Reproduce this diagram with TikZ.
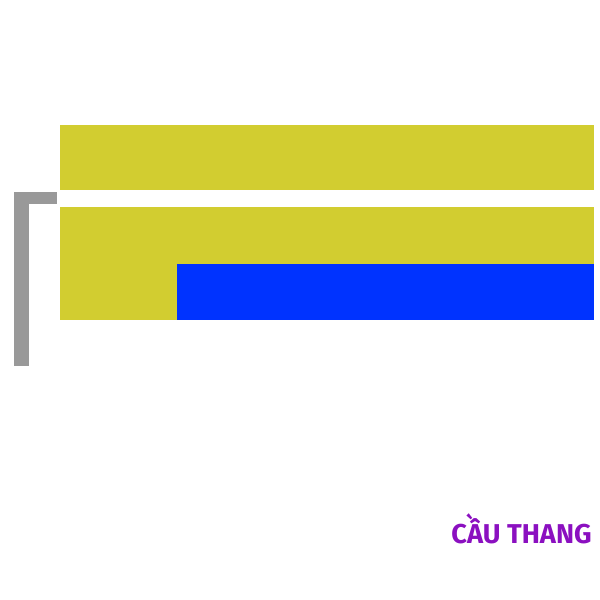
\documentclass[tikz,border=0pt]{standalone}
\usepackage{fontspec}
\usepackage{xcolor}
\usepackage{tikz}
\newfontfamily\labelfont{Fira Sans}
\definecolor{olivebar}{HTML}{D2CD30}
\definecolor{bluebar}{HTML}{0033FF}
\definecolor{railgray}{HTML}{999999}
\definecolor{stairpurple}{HTML}{8B10C0}

\begin{document}
\begin{tikzpicture}[x=0.02cm,y=-0.02cm]
  \useasboundingbox (0,0) rectangle (600,600);
  % upper band
  \fill[olivebar] (60,125) rectangle (594,190);
  % lower band with blue inset
  \fill[olivebar] (60,207) rectangle (594,320);
  \fill[bluebar] (177,264) rectangle (594,320);
  % gray bracket
  \fill[railgray] (14,192) rectangle (29,366);
  \fill[railgray] (14,192) rectangle (57,204);

  \node[anchor=base east, inner sep=0pt, text=stairpurple,
        font=\labelfont\bfseries\fontsize{15.5}{18}\selectfont] (stairs) at (592,543) {CẦU THANG};
\end{tikzpicture}
\end{document}
